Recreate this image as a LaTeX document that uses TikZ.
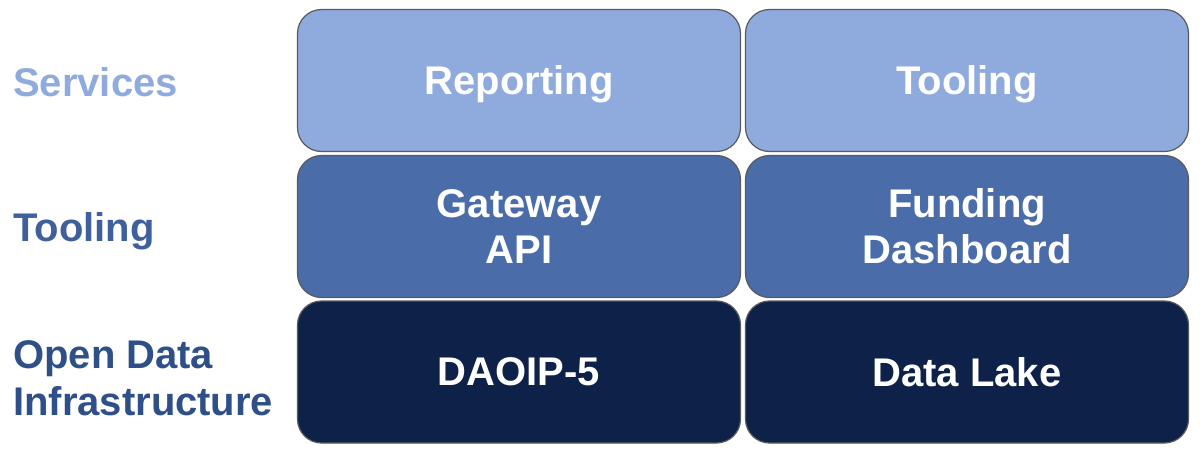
\documentclass[tikz,border=0pt]{standalone}
\usepackage{fontspec}
\setmainfont{Liberation Sans}
\definecolor{lightblue}{HTML}{8FAADC}
\definecolor{midblue}{HTML}{4A6CA8}
\definecolor{darkblue}{HTML}{0E2249}
\definecolor{edgegray}{HTML}{5A5A5A}
\definecolor{lblmid}{HTML}{40609C}
\definecolor{lbldark}{HTML}{2F4F88}
\begin{document}
\begin{tikzpicture}[x=1pt,y=-1pt,
  tile/.style={draw=edgegray, line width=1.2pt, rounded corners=24pt,
    minimum width=443pt, minimum height=142pt, inner sep=0pt,
    text=white, font=\fontsize{40}{46}\selectfont\bfseries, align=center},
  light/.style={tile, fill=lightblue},
  mid/.style={tile, fill=midblue},
  dark/.style={tile, fill=darkblue},
  nodesc/.style={text depth=0pt},
  rowlabel/.style={anchor=west, inner sep=0pt, align=left,
    font=\fontsize{40}{47}\selectfont\bfseries}]
\useasboundingbox (0,0) rectangle (1200,451);
\node[light, nodesc] (rep) at (519,80.5) {Reporting};
\node[light, nodesc] (tool) at (967,80.5) {Tooling};
\node[mid] (gw) at (519,226.5) {Gateway\\API};
\node[mid] (fd) at (967,226.5) {Funding\\Dashboard};
\node[dark] (dao) at (519,372) {DAOIP-5};
\node[dark] (lake) at (967,372) {Data Lake};
\node[rowlabel, text=lightblue] (lsvc) at (13,82) {Services};
\node[rowlabel, nodesc, text=lblmid] (ltool) at (13,227) {Tooling};
\node[rowlabel, text=lbldark] (lodi) at (13,378) {Open Data\\Infrastructure};
\end{tikzpicture}
\end{document}
